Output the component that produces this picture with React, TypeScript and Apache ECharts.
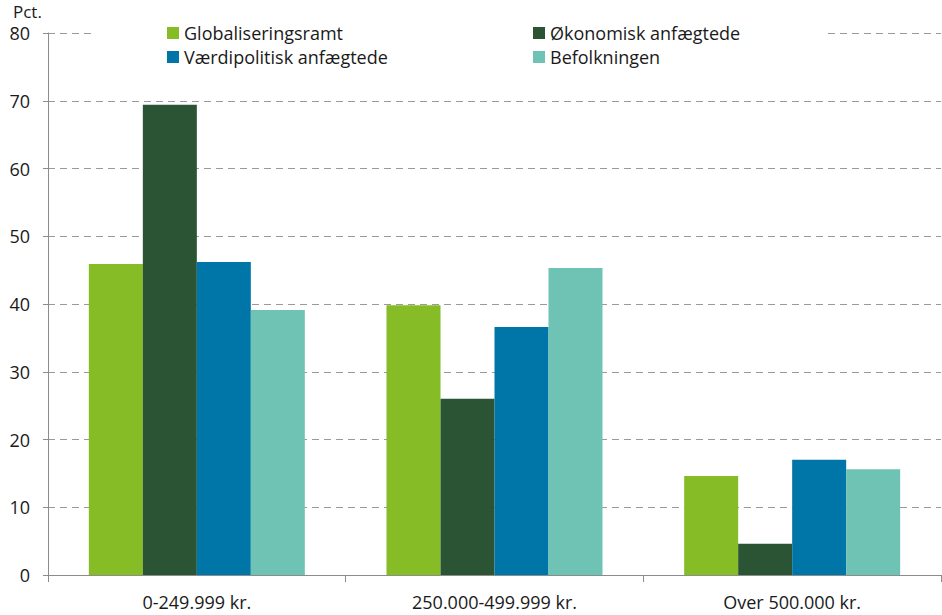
import React, { useEffect, useRef } from "react";
import * as echarts from "echarts";

const categories = ["0-249.999 kr.", "250.000-499.999 kr.", "Over 500.000 kr."];
const seriesNames = ["Globaliseringsramt", "Økonomisk anfægtede", "Værdipolitisk anfægtede", "Befolkningen"];
const globaliseringsramt = [45.9, 39.8, 14.6];
const oekonomisk = [69.4, 26.0, 4.6];
const vaerdipolitisk = [46.2, 36.6, 17.0];
const befolkningen = [39.1, 45.3, 15.6];
const colors = ["#86bc25", "#2b5434", "#0076a8", "#6fc3b4"];
const yTicks = [0, 80, 10];

const FONT = "'Open Sans', 'Noto Sans', sans-serif";

export default function App() {
  const ref = useRef<HTMLDivElement>(null);
  useEffect(() => {
    if (!ref.current) return;
    const chart = echarts.init(ref.current, undefined, { renderer: "svg" });
    const values = [globaliseringsramt, oekonomisk, vaerdipolitisk, befolkningen];
    const legendText = { fontSize: 18, color: "#1a1a1a", fontFamily: FONT, lineHeight: 18 };
    chart.setOption({
      animation: false,
      backgroundColor: "#ffffff",
      textStyle: { fontFamily: FONT },
      grid: { left: 48, right: 1, top: 33, bottom: 40, containLabel: false },
      legend: [
        {
          data: [seriesNames[0], seriesNames[2]],
          orient: "vertical",
          left: 167,
          top: 24,
          padding: 0,
          itemWidth: 12,
          itemHeight: 12,
          itemGap: 6,
          icon: "rect",
          textStyle: legendText,
          selectedMode: false,
          z: 5,
        },
        {
          data: [seriesNames[1], seriesNames[3]],
          orient: "vertical",
          left: 533,
          top: 24,
          padding: 0,
          itemWidth: 12,
          itemHeight: 12,
          itemGap: 6,
          icon: "rect",
          textStyle: legendText,
          selectedMode: false,
          z: 5,
        },
      ],
      graphic: [
        {
          type: "rect",
          shape: { x: 92, y: 22, width: 734, height: 46 },
          style: { fill: "#ffffff" },
          z: 3,
          silent: true,
        },
        {
          type: "text",
          x: 13,
          y: 3,
          style: { text: "Pct.", fontSize: 17, lineHeight: 17, fill: "#1a1a1a", fontFamily: FONT },
          z: 5,
        },
      ],
      xAxis: {
        type: "category",
        data: categories,
        axisLine: { lineStyle: { color: "#8c8c8c", width: 1 } },
        axisTick: { show: true, length: 7, alignWithLabel: false, lineStyle: { color: "#8c8c8c" } },
        axisLabel: { fontSize: 18, color: "#1a1a1a", margin: 18, fontFamily: FONT },
        splitLine: { show: false },
      },
      yAxis: {
        type: "value",
        min: yTicks[0],
        max: yTicks[1],
        interval: yTicks[2],
        axisLine: { show: true, lineStyle: { color: "#8c8c8c", width: 1 } },
        axisTick: { show: true, length: 5, lineStyle: { color: "#8c8c8c" } },
        axisLabel: { fontSize: 18, lineHeight: 18, color: "#1a1a1a", margin: 18, fontFamily: FONT },
        splitLine: { show: true, lineStyle: { color: "#9a9a9a", type: [7, 5], width: 1 } },
      },
      series: seriesNames.map((name, i) => ({
        name,
        type: "bar",
        data: values[i],
        barWidth: 54,
        barGap: "0%",
        itemStyle: { color: colors[i] },
        z: 2,
      })),
    });
    return () => chart.dispose();
  }, []);
  return <div ref={ref} style={{ width: 942, height: 615, position: "absolute", left: 0, top: 0 }} />;
}
